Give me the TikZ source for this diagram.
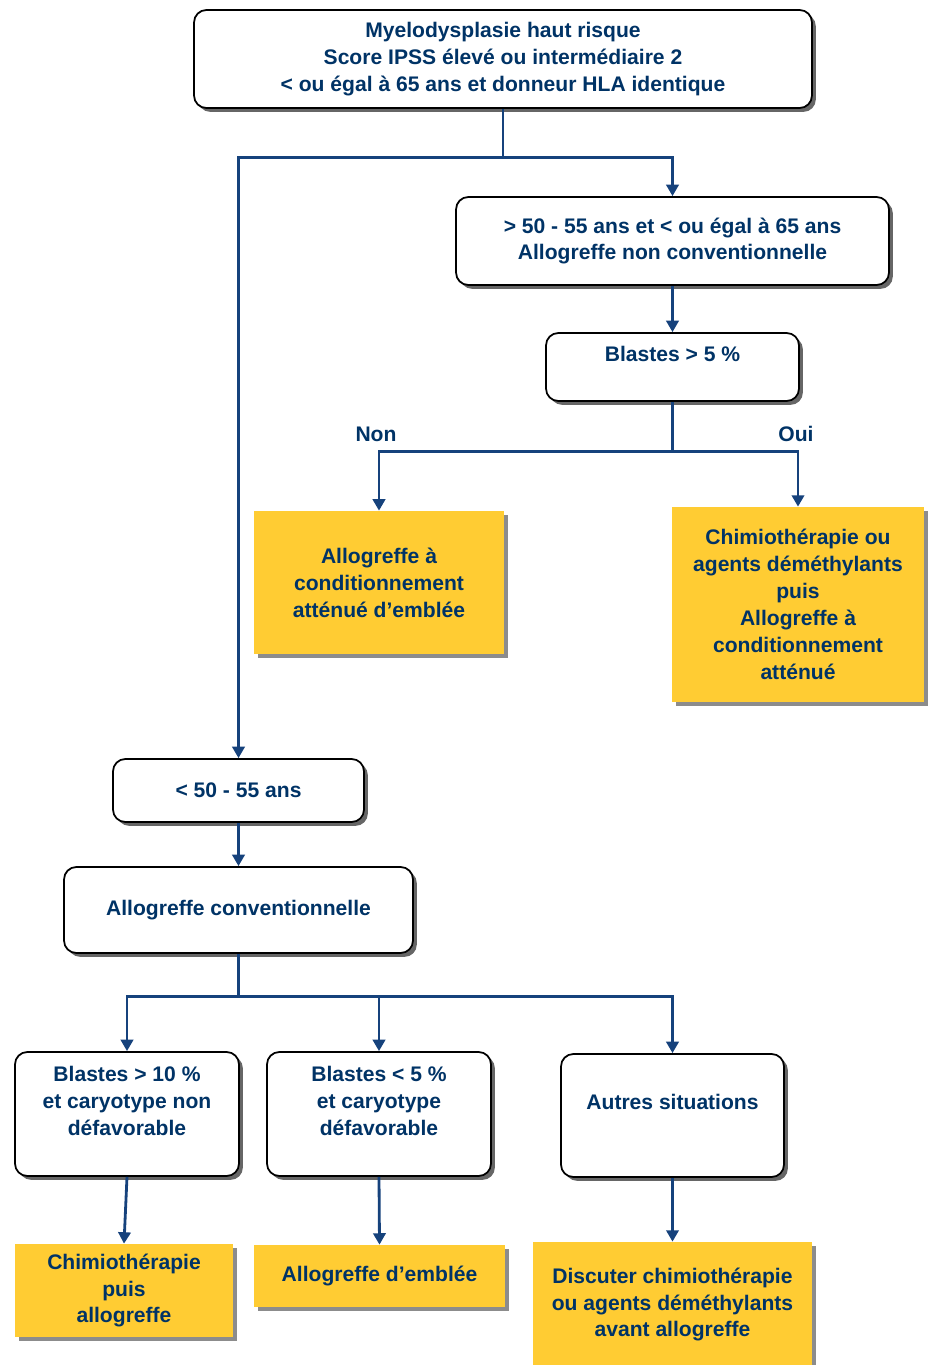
\documentclass[tikz,border=0pt]{standalone}
\usepackage{fontspec}
\setmainfont{Liberation Sans}
\usepackage{tikz}
\usetikzlibrary{arrows.meta,shadows}
\definecolor{navy}{RGB}{0,51,102}
\definecolor{flowline}{RGB}{22,66,124}
\definecolor{decision}{RGB}{255,204,51}
\tikzstyle{box base} = [align=center, font=\fontsize{12}{15.3}\selectfont\bfseries, text=navy, inner sep=0pt]
\tikzstyle{box white} = [box base, draw=black, line width=1pt, fill=white, rounded corners=7pt, drop shadow={shadow xshift=2.2pt,shadow yshift=-2.2pt,fill=black!60,opacity=1}]
\tikzstyle{box yellow} = [box base, fill=decision, drop shadow={shadow xshift=2.5pt,shadow yshift=-2.5pt,fill=black!45,opacity=1}]
\tikzstyle{branch label} = [box base]
\tikzstyle{flow} = [flowline, line width=1.6pt, ->, >={Stealth[length=6.5pt,width=7pt,inset=0pt]}]

\begin{document}
\begin{tikzpicture}[x=0.02cm,y=-0.02cm]
    \useasboundingbox (0,0) rectangle (929,1365);

    % boxes
    \node[box white, minimum width=12.36cm, minimum height=1.96cm] (top) at (503,59)
      {Myelodysplasie haut risque\\Score IPSS élevé ou intermédiaire 2\\< ou égal à 65 ans et donneur HLA identique};
    \node[box white, minimum width=8.66cm, minimum height=1.76cm] (age2) at (672.5,241)
      {> 50 - 55 ans et < ou égal à 65 ans\\Allogreffe non conventionnelle};
    \node[box white, minimum width=5.06cm, minimum height=1.36cm] (blast5) at (672.5,367)
      {Blastes > 5 \%\\ ~};
    \node[box yellow, minimum width=5cm, minimum height=2.86cm] (non) at (379,582.5)
      {Allogreffe à\\conditionnement\\atténué d'emblée};
    \node[box yellow, minimum width=5.04cm, minimum height=3.9cm] (oui) at (798,604.5)
      {Chimiothérapie ou\\agents déméthylants\\puis\\Allogreffe à\\conditionnement\\atténué};
    \node[box white, minimum width=5.02cm, minimum height=1.26cm] (young) at (238.5,790.5)
      {< 50 - 55 ans};
    \node[box white, minimum width=6.98cm, minimum height=1.72cm] (conv) at (238.5,910)
      {Allogreffe conventionnelle};
    \node[box white, minimum width=4.48cm, minimum height=2.48cm] (b10) at (127,1114)
      {Blastes > 10 \%\\et caryotype non\\défavorable\\ ~};
    \node[box white, minimum width=4.48cm, minimum height=2.48cm] (b5) at (379,1114)
      {Blastes < 5 \%\\et caryotype\\défavorable\\ ~};
    \node[box white, minimum width=4.46cm, minimum height=2.46cm] (autres) at (672.5,1115.5)
      {Autres situations\\ ~};
    \node[box yellow, minimum width=4.36cm, minimum height=1.86cm] (chimio) at (124,1290.5)
      {Chimiothérapie\\puis\\allogreffe};
    \node[box yellow, minimum width=5.02cm, minimum height=1.24cm] (allo) at (379.5,1276)
      {Allogreffe d'emblée};
    \node[box yellow, minimum width=5.58cm, minimum height=2.5cm] (discuter) at (672.5,1304.5)
      {Discuter chimiothérapie\\ou agents déméthylants\\avant allogreffe};

    \node[branch label] (lnon) at (376,434) {Non};
    \node[branch label] (loui) at (796,434) {Oui};

    % age branches
    \draw[flow] (top.south) -- ++(0,49) -| (age2.north);
    \draw[flow] (top.south) -- ++(0,49) -| (young.north);
    \draw[flow] (age2.south) -- (blast5.north);

    % blastes > 5 %
    \draw[flow] (blast5.south) -- ++(0,50) -| (non.north);
    \draw[flow] (blast5.south) -- ++(0,50) -| (oui.north);

    % conventional graft
    \draw[flow] (young.south) -- (conv.north);
    \draw[flow] (conv.south) -- ++(0,43) -| (b10.north);
    \draw[flow] (conv.south) -- ++(0,43) -| (b5.north);
    \draw[flow] (conv.south) -- ++(0,43) -| (autres.north);

    \draw[flow] (b10.south) -- (chimio.north);
    \draw[flow] (b5.south) -- (allo.north);
    \draw[flow] (autres.south) -- (discuter.north);
\end{tikzpicture}
\end{document}
